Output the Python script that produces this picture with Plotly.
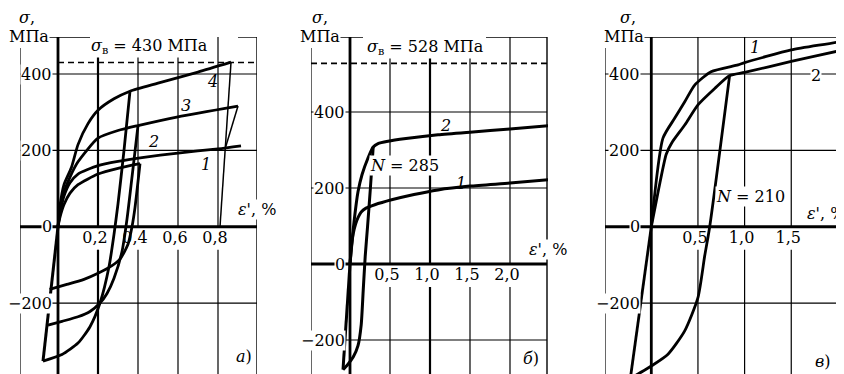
import plotly.graph_objects as go

W, H = 844, 374
FONT = "DejaVu Serif"
FS = 16
INK = "black"

# ---------------- panel а ----------------
a_xticks = [0.2, 0.4, 0.6, 0.8]
a_xlabels = ["0,2", "0,4", "0,6", "0,8"]
a_yticks = [400, 200, 0, -200]
a_ylabels = ["400", "200", "0", "−200"]
a_sigma_b = 430
a_c1_eps = [0, 0.01, 0.03, 0.06, 0.1, 0.2, 0.3, 0.42, 0.6, 0.8, 0.915]
a_c1_sig = [0, 35, 80, 115, 138, 160, 171, 181, 193, 204, 212]
a_c2_eps = [0, 0.01, 0.03, 0.06, 0.1, 0.2, 0.3, 0.41]
a_c2_sig = [0, 25, 58, 88, 110, 138, 153, 165]
a_c3_eps = [0, 0.01, 0.03, 0.06, 0.1, 0.2, 0.3, 0.4, 0.6, 0.9]
a_c3_sig = [0, 40, 90, 130, 170, 232, 252, 265, 288, 316]
a_c4_eps = [0, 0.01, 0.03, 0.067, 0.1, 0.15, 0.2, 0.28, 0.36, 0.5, 0.7, 0.865]
a_c4_sig = [0, 55, 110, 155, 215, 270, 305, 335, 355, 376, 405, 431]
a_l4_eps = [0.36, 0.33, 0.30, 0.28, 0.255, 0.21, 0.16, 0.10, 0.02, -0.075]
a_l4_sig = [355, 200, 60, -20, -105, -200, -262, -305, -335, -352]
a_l3_eps = [0.40, 0.37, 0.345, 0.32, 0.28, 0.245, 0.21, 0.16, 0.10, 0.02, -0.05]
a_l3_sig = [265, 130, 20, -65, -135, -175, -200, -222, -236, -248, -258]
a_l2_eps = [0.41, 0.385, 0.37, 0.35, 0.31, 0.27, 0.2, 0.13, 0.04, -0.042]
a_l2_sig = [165, 50, 0, -46, -85, -102, -122, -138, -152, -164]
a_steep_eps = [-0.075, 0.0]
a_steep_sig = [-352, 0]
a_u4_eps = [0.865, 0.81]
a_u4_sig = [431, 0]
a_u3_eps = [0.9, 0.836]
a_u3_sig = [316, 205]

# ---------------- panel б ----------------
b_xticks = [0.5, 1.0, 1.5, 2.0]
b_xlabels = ["0,5", "1,0", "1,5", "2,0"]
b_yticks = [400, 200, 0, -200]
b_ylabels = ["400", "200", "0", "−200"]
b_sigma_b = 528
b_c1_eps = [0, 0.02, 0.04, 0.07, 0.1, 0.14, 0.2, 0.31, 0.52, 0.8, 1.1, 1.5, 2.0, 2.5]
b_c1_sig = [0, 50, 80, 105, 122, 137, 147, 156, 169, 183, 195, 205, 213, 222]
b_c2_eps = [0, 0.05, 0.1, 0.15, 0.225, 0.29, 0.35, 0.475, 0.7, 1.1, 1.5, 2.0, 2.5]
b_c2_sig = [0, 110, 190, 235, 279, 308, 317, 323, 330, 340, 347, 355, 364]
b_loop_eps = [0.29, 0.255, 0.22, 0.19, 0.165, 0.14, 0.10, 0.04, -0.03, -0.0875]
b_loop_sig = [308, 200, 100, 20, -70, -160, -215, -245, -265, -278]
b_steep_eps = [-0.0875, 0.0]
b_steep_sig = [-278, 0]

# ---------------- panel в ----------------
c_xticks = [0.5, 1.0, 1.5]
c_xlabels = ["0,5", "1,0", "1,5"]
c_yticks = [400, 200, 0, -200]
c_ylabels = ["400", "200", "0", "−200"]
c_c1_eps = [0, 0.125, 0.25, 0.36, 0.465, 0.64, 0.93, 1.0, 1.5, 2.0, 2.14]
c_c1_sig = [0, 232, 284, 328, 371, 406, 424, 430, 463, 484, 493]
c_c2_eps = [0, 0.08, 0.16, 0.22, 0.36, 0.5, 0.68, 0.84, 1.0, 1.5, 2.0, 2.14]
c_c2_sig = [0, 100, 190, 220, 267, 319, 362, 396, 404, 433, 460, 467]
c_loop_eps = [0.84, 0.626, 0.572, 0.5, 0.358, 0.179, 0.0, -0.225]
c_loop_sig = [397, 0, -77, -186, -273, -334, -365, -398]
c_steep_eps = [-0.225, 0.0]
c_steep_sig = [-398, 0]

# ---------------- layout geometry (pixels) ----------------
P = {
    "a": dict(n="", ex0=50, esc=200, sy0=218.7, ssc=0.3817, L=12, R=249, Rd=249, T=29, B=370,
              ylab_r=45, lefttop=40, topsegs=[(12, 82), (230, 249)], boldx=[0.2],
              xticks=a_xticks, xlabels=a_xlabels, yticks=a_yticks, ylabels=a_ylabels),
    "b": dict(n="2", ex0=342, esc=80, sy0=256, ssc=0.38, L=303, R=539, Rd=540, T=29, B=370,
              ylab_r=338, lefttop=40, topsegs=[(303, 355), (478, 539)], boldx=[1.0],
              xticks=b_xticks, xlabels=b_xlabels, yticks=b_yticks, ylabels=b_ylabels),
    "c": dict(n="3", ex0=643.3, esc=93.3, sy0=218.7, ssc=0.3817, L=597, R=830, Rd=844, T=29, B=370,
              ylab_r=633, lefttop=40, topsegs=[(597, 830)], boldx=[],
              xticks=c_xticks, xlabels=c_xlabels, yticks=c_yticks, ylabels=c_ylabels),
}


def fx(p, px):
    return (px - p["ex0"]) / p["esc"]


def fy(p, py):
    return (p["sy0"] - py) / p["ssc"]


fig = go.Figure()
shapes = []
annotations = []
layout_axes = {}


def seg(p, x0, y0, x1, y1, w, dash=None):
    return dict(type="line", xref="x" + p["n"], yref="y" + p["n"], x0=x0, y0=y0, x1=x1, y1=y1,
                line=dict(color=INK, width=w, dash=dash), layer="below")


def ann(px, py, text, bg=False, xanchor="center", size=FS):
    return dict(x=px / W, y=1 - py / H, xref="paper", yref="paper", text=text, showarrow=False,
                font=dict(family=FONT, size=size, color=INK),
                bgcolor="white" if bg else "rgba(0,0,0,0)", borderpad=0,
                xanchor=xanchor, yanchor="middle")


for key, p in P.items():
    n = p["n"]
    xr = [fx(p, p["L"]), fx(p, p["Rd"])]
    yr = [fy(p, p["B"]), fy(p, p["T"])]
    layout_axes["xaxis" + n] = dict(domain=[p["L"] / W, p["Rd"] / W], range=xr, visible=False,
                                    fixedrange=True, anchor="y" + n)
    layout_axes["yaxis" + n] = dict(domain=[1 - p["B"] / H, 1 - p["T"] / H], range=yr, visible=False,
                                    fixedrange=True, anchor="x" + n)
    xL, xR = fx(p, p["L"]), fx(p, p["R"])
    yB, yT = fy(p, p["B"]), fy(p, p["T"])
    # vertical grid lines (gap under tick labels)
    ygap = fy(p, p["sy0"] + 23)
    for t in p["xticks"]:
        w = 2.2 if t in p["boldx"] else 1.2
        shapes.append(seg(p, t, yT, t, 0, w))
        shapes.append(seg(p, t, ygap, t, yB, w))
    # horizontal grid lines
    for t in p["yticks"]:
        if t != 0:
            shapes.append(seg(p, xL, t, xR, t, 1.2))
    # frame
    shapes.append(seg(p, xL, yB, xL, fy(p, p["lefttop"]), 1.2))
    shapes.append(seg(p, xL, yB, xR, yB, 1.4))
    shapes.append(seg(p, xR, yB, xR, yT, 1.4))
    for s0, s1 in p["topsegs"]:
        shapes.append(seg(p, fx(p, s0), yT, fx(p, s1), yT, 1.4))
    # zero axes
    shapes.append(seg(p, 0, yB, 0, yT, 2.8))
    shapes.append(seg(p, xL, 0, xR, 0, 3))
    # x tick labels as text trace (under the curves)
    fig.add_trace(go.Scatter(
        x=[t - 3 / p["esc"] for t in p["xticks"]], y=[fy(p, p["sy0"] + 12)] * len(p["xticks"]),
        text=p["xlabels"], mode="text", textposition="middle center",
        textfont=dict(family=FONT, size=FS, color=INK), cliponaxis=False,
        xaxis="x" + n, yaxis="y" + n, showlegend=False, hoverinfo="skip"))
    # y tick labels
    for t, lab in zip(p["yticks"], p["ylabels"]):
        annotations.append(dict(x=p["ylab_r"] / W, xref="paper", y=t, yref="y" + n, text=lab,
                                showarrow=False, font=dict(family=FONT, size=FS, color=INK),
                                bgcolor="white", borderpad=0, xanchor="right", yanchor="middle"))

# dashed ultimate strength lines
pa, pb = P["a"], P["b"]
shapes.append(seg(pa, 0, a_sigma_b, fx(pa, pa["R"]), a_sigma_b, 1.6, dash="6px,4px"))
shapes.append(seg(pb, fx(pb, pb["L"]), b_sigma_b, fx(pb, pb["R"]), b_sigma_b, 1.6, dash="6px,4px"))


def curve(xs, ys, n, w=3.0, spline=True):
    line = dict(color=INK, width=w)
    if spline:
        line.update(shape="spline", smoothing=0.6)
    fig.add_trace(go.Scatter(x=xs, y=ys, mode="lines", line=line, xaxis="x" + n, yaxis="y" + n,
                             showlegend=False, hoverinfo="skip"))


# panel а curves
for xs, ys in [(a_c1_eps, a_c1_sig), (a_c2_eps, a_c2_sig), (a_c3_eps, a_c3_sig), (a_c4_eps, a_c4_sig),
               (a_l4_eps, a_l4_sig), (a_l3_eps, a_l3_sig), (a_l2_eps, a_l2_sig)]:
    curve(xs, ys, "", 2.8)
curve(a_steep_eps, a_steep_sig, "", 3.0, spline=False)
curve(a_u4_eps, a_u4_sig, "", 1.5, spline=False)
curve(a_u3_eps, a_u3_sig, "", 1.5, spline=False)

# panel б curves
for xs, ys in [(b_c1_eps, b_c1_sig), (b_c2_eps, b_c2_sig), (b_loop_eps, b_loop_sig)]:
    curve(xs, ys, "2", 3.0)
curve(b_steep_eps, b_steep_sig, "2", 3.0, spline=False)

# panel в curves
for xs, ys in [(c_c1_eps, c_c1_sig), (c_c2_eps, c_c2_sig), (c_loop_eps, c_loop_sig)]:
    curve(xs, ys, "3", 2.8)
curve(c_steep_eps, c_steep_sig, "3", 2.8, spline=False)

# text labels
annotations += [
    ann(19, 10, "<i>σ</i>,"), ann(21, 29, "МПа", bg=True),
    ann(141, 39, "<i>σ</i><sub>в</sub> = 430 МПа", bg=True),
    ann(198, 156, "<i>1</i>"), ann(145, 133, "<i>2</i>"), ann(178, 98, "<i>3</i>"), ann(204, 73, "<i>4</i>"),
    ann(249, 201, "<i>ε'</i>, %", bg=True), ann(236, 348, "<i>а</i>)"),

    ann(312, 10, "<i>σ</i>,"), ann(312, 29, "МПа", bg=True),
    ann(417, 40, "<i>σ</i><sub>в</sub> = 528 МПа", bg=True),
    ann(437, 118, "<i>2</i>"), ann(453, 175, "<i>1</i>"),
    ann(396, 157, "<i>N</i> = 285", bg=True),
    ann(540, 241, "<i>ε'</i>, %", bg=True), ann(523, 350, "<i>б</i>)"),

    ann(620, 10, "<i>σ</i>,"), ann(616, 29, "МПа", bg=True),
    ann(747, 40, "<i>1</i>"), ann(808, 67, "2", bg=True),
    ann(742, 188, "<i>N</i> = 210", bg=True),
    ann(818, 205, "<i>ε'</i>, %", bg=True), ann(815, 353, "<i>в</i>)"),
]

fig.update_layout(width=W, height=H, autosize=False, margin=dict(l=0, r=0, t=0, b=0),
                  paper_bgcolor="white", plot_bgcolor="white", shapes=shapes, annotations=annotations,
                  font=dict(family=FONT, size=FS, color=INK), **layout_axes)
fig.write_html("out.html")
